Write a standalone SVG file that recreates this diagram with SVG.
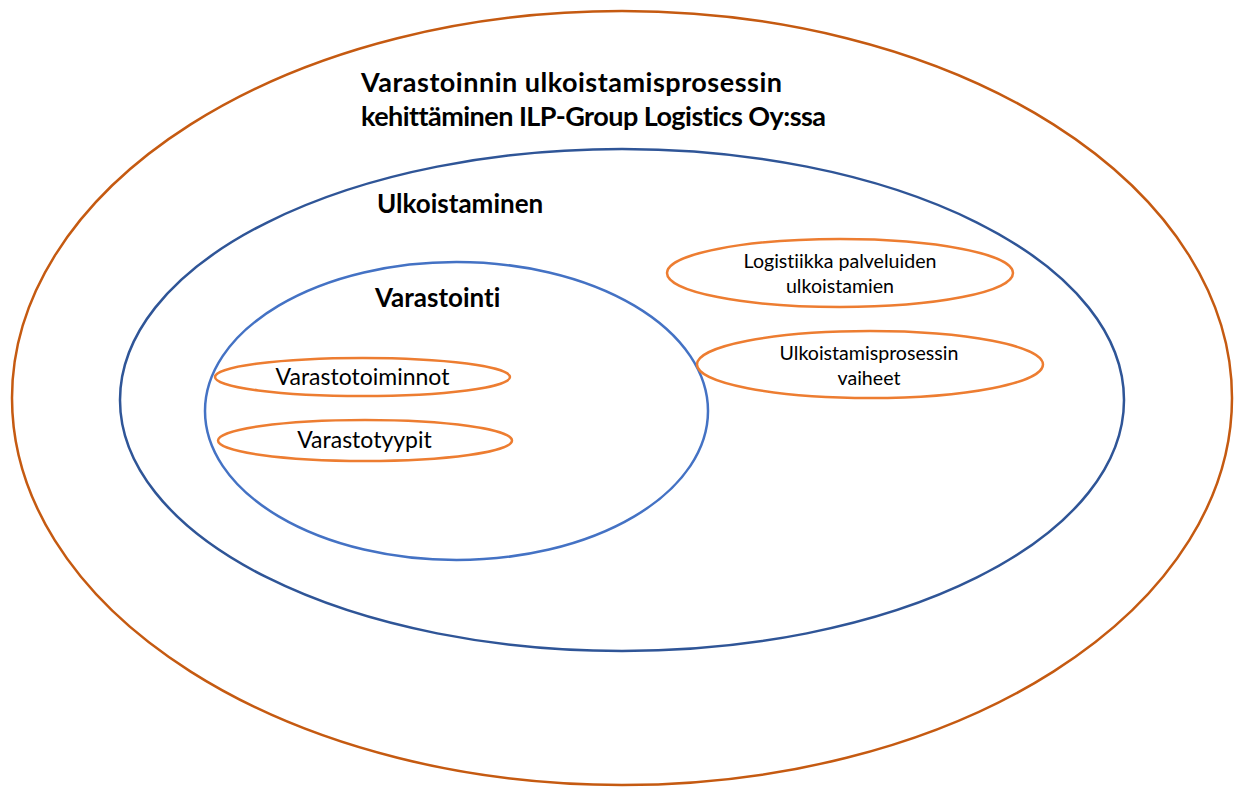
<svg xmlns="http://www.w3.org/2000/svg" width="1242" height="787" viewBox="0 0 1242 787">
<style>
.t{font-family:Lato,"Open Sans","Liberation Sans",sans-serif;fill:#000;font-variant-ligatures:none}
.b{font-weight:bold;font-size:26px}
.h{font-weight:bold;font-size:27px}
.o{fill:none;stroke:#ED7D31;stroke-width:2.5}
.s{font-size:19.6px}
</style>
<rect width="1242" height="787" fill="#fff"/>
<g id="outer">
<ellipse cx="622" cy="398" rx="610" ry="387" fill="none" stroke="#C55A11" stroke-width="2.5"/>
<text class="t h" x="361" y="92" textLength="421">Varastoinnin ulkoistamisprosessin</text>
<text class="t h" x="361" y="126" textLength="465">kehittäminen ILP-Group Logistics Oy:ssa</text>
</g>
<g id="ulkoistaminen">
<ellipse cx="622" cy="400" rx="502" ry="251" fill="none" stroke="#2F5597" stroke-width="2.5"/>
<text class="t b" x="377" y="213">Ulkoistaminen</text>
</g>
<g id="varastointi">
<ellipse cx="456.5" cy="411" rx="251.5" ry="149" fill="none" stroke="#4472C4" stroke-width="2.5"/>
<text class="t b" x="375" y="307">Varastointi</text>
</g>
<g id="varastotoiminnot">
<ellipse class="o" cx="362.5" cy="377" rx="147.5" ry="19"/>
<text class="t" x="362.5" y="385" font-size="23" text-anchor="middle">Varastotoiminnot</text>
</g>
<g id="varastotyypit">
<ellipse class="o" cx="365" cy="440.5" rx="147" ry="20.5"/>
<text class="t" x="364.5" y="448" font-size="23" text-anchor="middle">Varastotyypit</text>
</g>
<g id="logistiikka">
<ellipse class="o" cx="840" cy="273" rx="173" ry="34"/>
<text class="t s" x="840" y="268" text-anchor="middle">Logistiikka palveluiden</text>
<text class="t s" x="840" y="293" text-anchor="middle">ulkoistamien</text>
</g>
<g id="vaiheet">
<ellipse class="o" cx="870" cy="364.5" rx="173" ry="33.5"/>
<text class="t s" x="869" y="360" text-anchor="middle">Ulkoistamisprosessin</text>
<text class="t s" x="869" y="385" text-anchor="middle">vaiheet</text>
</g>
<g id="connectors"></g>
</svg>
